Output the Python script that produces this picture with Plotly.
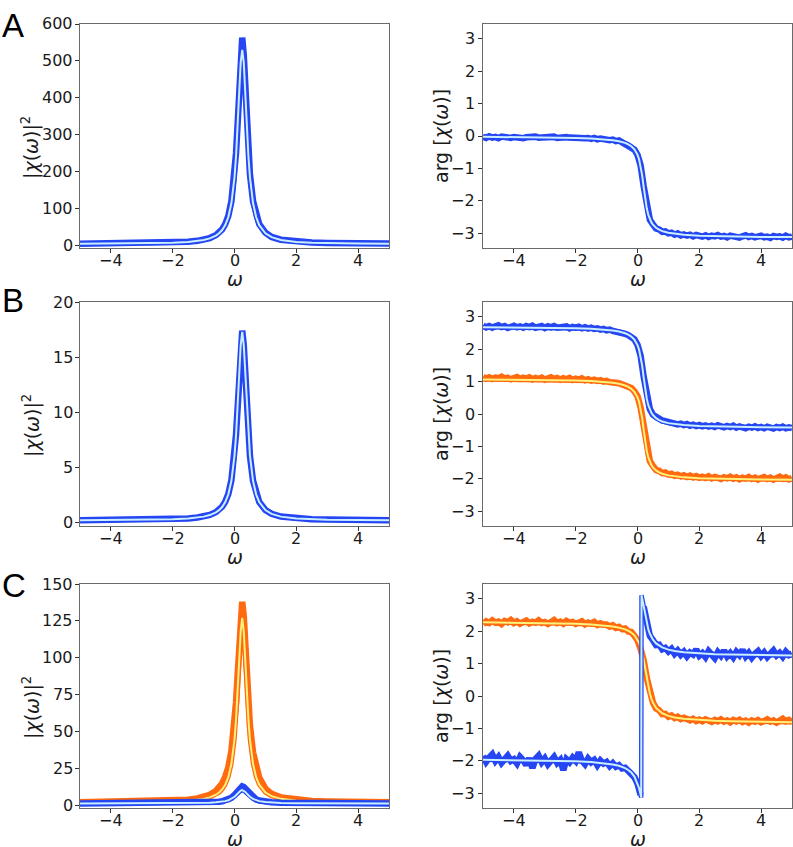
import plotly.graph_objects as go
from plotly.subplots import make_subplots

# ---------------- data ----------------
omega_data = [-5.0, -4.9, -4.8, -4.7, -4.6, -4.5, -4.4, -4.3, -4.2, -4.1,
              -4.0, -3.9, -3.8, -3.7, -3.6, -3.5, -3.4, -3.3, -3.2, -3.1,
              -3.0, -2.9, -2.8, -2.7, -2.6, -2.5, -2.4, -2.3, -2.2, -2.1,
              -2.0, -1.9, -1.8, -1.7, -1.6, -1.5, -1.4, -1.3, -1.2, -1.1,
              -1.0, -0.9, -0.8, -0.7, -0.6, -0.5, -0.4, -0.3, -0.2, -0.1,
              0.0, 0.1, 0.2, 0.3, 0.4, 0.5, 0.6, 0.7, 0.8, 0.9,
              1.0, 1.1, 1.2, 1.3, 1.4, 1.5, 1.6, 1.7, 1.8, 1.9,
              2.0, 2.1, 2.2, 2.3, 2.4, 2.5, 2.6, 2.7, 2.8, 2.9,
              3.0, 3.1, 3.2, 3.3, 3.4, 3.5, 3.6, 3.7, 3.8, 3.9,
              4.0, 4.1, 4.2, 4.3, 4.4, 4.5, 4.6, 4.7, 4.8, 4.9,
              5.0]

omega_fit = [-5, -4, -3, -2.5, -2, -1.5, -1.2, -1, -0.8, -0.6, -0.5, -0.4, -0.3,
             -0.2, -0.1, 0, 0.05, 0.1, 0.15, 0.2, 0.25, 0.3, 0.35, 0.4, 0.45, 0.5,
             0.6, 0.7, 0.8, 1, 1.2, 1.5, 2, 2.5, 3, 4, 5]

omega_fit_c_blue = [-5, -4, -3, -2.5, -2, -1.5, -1.2, -1, -0.8, -0.6, -0.5, -0.4, -0.3,
                    -0.2, -0.1, 0, 0.05, 0.1, 0.12, 0.13, 0.15, 0.2, 0.25, 0.3, 0.35,
                    0.4, 0.45, 0.5, 0.6, 0.7, 0.8, 1, 1.2, 1.5, 2, 2.5, 3, 4, 5]

# |chi|^2 panels (sampled on omega_fit)
magA_data = [3.8, 4.2, 4.9, 5.6, 6.8, 9.0, 11.5, 14.5, 19, 27, 33.5, 42.5, 57, 79, 119, 192,
             250, 328, 425, 520, 563, 515, 425, 328, 250, 192, 119, 79, 57, 33.5, 22, 14.5,
             9, 6.8, 5.6, 4.4, 4.0]
magA_fit = [3.6, 4.0, 4.6, 5.3, 6.4, 8.6, 11.0, 13.8, 18.1, 25.7, 31.9, 40.7, 54.3, 75.9, 113.9,
            184, 241, 316, 410, 495, 530, 495, 410, 316, 241, 184, 114, 76, 54, 32, 21.4, 13.8,
            8.6, 6.4, 5.3, 4.2, 3.8]

magB_data = [0.23, 0.24, 0.26, 0.28, 0.32, 0.39, 0.47, 0.56, 0.7, 0.96, 1.16, 1.45, 1.9, 2.6,
             3.85, 6.15, 8.0, 10.35, 13.4, 16.2, 17.4, 16.1, 13.3, 10.25, 7.9, 6.05, 3.8, 2.58,
             1.88, 1.15, 0.81, 0.56, 0.39, 0.32, 0.28, 0.25, 0.23]
magB_fit = [0.22, 0.23, 0.25, 0.27, 0.31, 0.38, 0.46, 0.55, 0.69, 0.94, 1.14, 1.42, 1.87, 2.57,
            3.80, 6.08, 7.92, 10.26, 13.31, 16.07, 17.3, 16.07, 13.31, 10.26, 7.92, 6.08, 3.80,
            2.57, 1.87, 1.14, 0.80, 0.55, 0.38, 0.31, 0.27, 0.24, 0.22]

magC_orange_data = [2.3, 2.5, 2.7, 2.9, 3.3, 4.0, 4.9, 5.8, 7.3, 10, 12, 15, 19.5, 26, 37, 55,
                    70, 88, 112, 132, 138, 128, 108, 86, 68, 54, 36, 25, 19, 11.5, 8, 5.6, 3.8,
                    3.1, 2.8, 2.5, 2.3]
magC_orange_fit = [2.14, 2.24, 2.38, 2.54, 2.80, 3.32, 3.90, 4.56, 5.58, 7.39, 8.85, 10.94, 14.17,
                   19.3, 28.3, 44.9, 58.4, 75.3, 97.5, 117.7, 127, 117.7, 97.5, 75.3, 58.4, 44.9,
                   28.3, 19.3, 14.2, 8.9, 6.4, 4.6, 3.3, 2.8, 2.5, 2.3, 2.2]
magC_blue_data = [1.53, 1.54, 1.56, 1.59, 1.64, 1.73, 1.82, 1.95, 2.11, 2.42, 2.65, 2.98, 3.47,
                  4.21, 5.39, 7.26, 8.53, 9.97, 11.43, 12.57, 13.0, 12.57, 11.43, 9.97, 8.53,
                  7.26, 5.39, 4.21, 3.47, 2.65, 2.24, 1.95, 1.73, 1.64, 1.59, 1.55, 1.53]
magC_blue_fit = [1.52, 1.53, 1.55, 1.57, 1.61, 1.68, 1.75, 1.85, 1.98, 2.22, 2.4, 2.66, 3.04,
                 3.62, 4.54, 6.0, 6.99, 8.12, 9.26, 10.15, 10.5, 10.15, 9.26, 8.12, 6.99, 6.0,
                 4.54, 3.62, 3.04, 2.4, 2.08, 1.85, 1.68, 1.61, 1.57, 1.54, 1.52]

# arg chi panels (data on omega_data, fits on omega_fit)
argA_data = [-0.02, -0.06, -0.01, -0.05, -0.03, -0.07, -0.02, -0.04, -0.01, -0.06,
             -0.03, -0.05, -0.02, -0.07, -0.04, -0.03, -0.06, -0.02, -0.05, -0.04,
             -0.07, -0.03, -0.05, -0.02, -0.06, -0.04, -0.07, -0.03, -0.05, -0.06,
             -0.04, -0.08, -0.05, -0.07, -0.06, -0.09, -0.06, -0.1, -0.08, -0.11,
             -0.09, -0.13, -0.11, -0.16, -0.14, -0.2, -0.22, -0.28, -0.33, -0.42,
             -0.58, -0.9, -1.55, -2.22, -2.58, -2.72, -2.85, -2.88, -2.95, -2.94,
             -3.0, -2.98, -3.04, -3.0, -3.06, -3.03, -3.07, -3.04, -3.09, -3.05,
             -3.08, -3.1, -3.06, -3.11, -3.07, -3.09, -3.05, -3.1, -3.08, -3.12,
             -3.07, -3.1, -3.08, -3.13, -3.09, -3.06, -3.11, -3.08, -3.12, -3.09,
             -3.07, -3.12, -3.1, -3.14, -3.08, -3.11, -3.09, -3.13, -3.07, -3.12,
             -3.1]
argA_fit = [-0.025, -0.031, -0.041, -0.048, -0.059, -0.076, -0.093, -0.108, -0.129, -0.161,
            -0.184, -0.213, -0.255, -0.314, -0.409, -0.576, -0.714, -0.915, -1.204, -1.571,
            -1.938, -2.227, -2.428, -2.566, -2.662, -2.733, -2.828, -2.887, -2.929, -2.981,
            -3.013, -3.042, -3.070, -3.085, -3.095, -3.108, -3.115]

argB_blue_data = [2.72, 2.67, 2.71, 2.66, 2.7, 2.73, 2.68, 2.71, 2.65, 2.69,
                  2.72, 2.67, 2.7, 2.66, 2.71, 2.68, 2.72, 2.66, 2.69, 2.71,
                  2.65, 2.7, 2.67, 2.71, 2.66, 2.69, 2.67, 2.7, 2.64, 2.68,
                  2.66, 2.69, 2.64, 2.67, 2.63, 2.66, 2.62, 2.64, 2.6, 2.62,
                  2.58, 2.6, 2.56, 2.55, 2.53, 2.5, 2.47, 2.43, 2.38, 2.3,
                  2.13, 1.8, 1.15, 0.5, 0.15, -0.02, -0.1, -0.15, -0.2, -0.22,
                  -0.25, -0.27, -0.28, -0.32, -0.3, -0.34, -0.31, -0.36, -0.33, -0.37,
                  -0.34, -0.38, -0.35, -0.39, -0.36, -0.4, -0.35, -0.38, -0.41, -0.37,
                  -0.4, -0.36, -0.42, -0.38, -0.4, -0.44, -0.39, -0.42, -0.38, -0.43,
                  -0.4, -0.44, -0.39, -0.42, -0.45, -0.4, -0.43, -0.39, -0.44, -0.41,
                  -0.43]
argB_blue_fit = [2.675, 2.669, 2.659, 2.652, 2.641, 2.624, 2.607, 2.592, 2.571, 2.539, 2.516,
                 2.487, 2.445, 2.386, 2.291, 2.124, 1.986, 1.785, 1.496, 1.129, 0.762, 0.473,
                 0.272, 0.134, 0.038, -0.033, -0.128, -0.187, -0.229, -0.281, -0.313, -0.342,
                 -0.370, -0.385, -0.395, -0.408, -0.415]
argB_orange_data = [1.14, 1.09, 1.13, 1.08, 1.12, 1.1, 1.15, 1.09, 1.12, 1.07,
                    1.11, 1.14, 1.08, 1.12, 1.09, 1.13, 1.07, 1.11, 1.08, 1.12,
                    1.06, 1.1, 1.13, 1.08, 1.11, 1.06, 1.1, 1.07, 1.11, 1.05,
                    1.09, 1.06, 1.1, 1.04, 1.07, 1.03, 1.06, 1.02, 1.04, 1.0,
                    1.02, 0.98, 0.99, 0.96, 0.95, 0.92, 0.9, 0.85, 0.8, 0.7,
                    0.55, 0.2, -0.45, -1.1, -1.45, -1.6, -1.72, -1.75, -1.82, -1.8,
                    -1.86, -1.84, -1.9, -1.87, -1.92, -1.89, -1.94, -1.9, -1.95, -1.91,
                    -1.96, -1.93, -1.97, -1.92, -1.98, -1.94, -1.97, -2.0, -1.95, -1.98,
                    -1.93, -1.99, -1.95, -2.01, -1.96, -1.99, -1.94, -2.0, -1.96, -2.02,
                    -1.97, -1.94, -2.0, -1.96, -2.02, -1.97, -1.93, -1.99, -1.95, -2.01,
                    -1.97]
argB_orange_fit = [1.065, 1.059, 1.049, 1.042, 1.031, 1.014, 0.997, 0.982, 0.961, 0.929, 0.906,
                   0.877, 0.835, 0.776, 0.681, 0.514, 0.376, 0.175, -0.114, -0.481, -0.848,
                   -1.137, -1.338, -1.476, -1.572, -1.643, -1.738, -1.797, -1.839, -1.891,
                   -1.923, -1.952, -1.980, -1.995, -2.005, -2.018, -2.025]

argC_orange_data = [2.22, 2.3, 2.25, 2.33, 2.26, 2.29, 2.22, 2.31, 2.27, 2.34,
                    2.25, 2.3, 2.23, 2.28, 2.32, 2.24, 2.29, 2.26, 2.33, 2.25,
                    2.28, 2.22, 2.3, 2.34, 2.25, 2.29, 2.23, 2.31, 2.26, 2.28,
                    2.22, 2.27, 2.3, 2.21, 2.26, 2.23, 2.28, 2.19, 2.24, 2.2,
                    2.2, 2.14, 2.18, 2.1, 2.13, 2.06, 2.08, 1.99, 1.97, 1.86,
                    1.72, 1.45, 1.1, 0.55, 0.05, -0.2, -0.38, -0.44, -0.56, -0.55,
                    -0.64, -0.6, -0.68, -0.64, -0.71, -0.67, -0.71, -0.75, -0.7, -0.77,
                    -0.73, -0.78, -0.72, -0.76, -0.8, -0.74, -0.78, -0.72, -0.79, -0.75,
                    -0.81, -0.74, -0.78, -0.73, -0.8, -0.76, -0.82, -0.75, -0.79, -0.74,
                    -0.81, -0.77, -0.72, -0.79, -0.75, -0.82, -0.76, -0.7, -0.78, -0.74,
                    -0.8]
argC_orange_fit = [2.268, 2.260, 2.248, 2.239, 2.225, 2.204, 2.185, 2.167, 2.142, 2.107, 2.083,
                   2.052, 2.010, 1.953, 1.869, 1.738, 1.642, 1.515, 1.344, 1.120, 0.846, 0.555,
                   0.289, 0.076, -0.085, -0.205, -0.366, -0.465, -0.532, -0.613, -0.661,
                   -0.704, -0.744, -0.766, -0.779, -0.796, -0.806]
argC_blue_data = [-1.85, -2.03, -1.9, -1.8, -2.0, -1.88, -2.06, -1.92, -1.84, -2.0,
                  -1.95, -2.08, -1.88, -1.98, -2.12, -1.92, -2.22, -1.94, -1.84, -2.04,
                  -1.92, -2.1, -1.95, -1.88, -2.06, -1.97, -2.28, -1.95, -2.04, -1.9,
                  -2.0, -1.74, -1.99, -2.1, -1.93, -2.04, -1.97, -2.13, -1.99, -2.08,
                  -2.03, -2.16, -2.07, -2.18, -2.13, -2.23, -2.21, -2.3, -2.36, -2.5,
                  -2.7, -3.05, 2.75, 2.2, 1.85, 1.72, 1.57, 1.58, 1.44, 1.48,
                  1.37, 1.45, 1.3, 1.4, 1.27, 1.36, 1.22, 1.34, 1.28, 1.43,
                  1.24, 1.32, 1.2, 1.38, 1.27, 1.17, 1.35, 1.24, 1.4, 1.22,
                  1.32, 1.19, 1.36, 1.26, 1.42, 1.22, 1.33, 1.18, 1.3, 1.38,
                  1.23, 1.34, 1.2, 1.3, 1.4, 1.25, 1.33, 1.21, 1.36, 1.26,
                  1.3]
argC_blue_fit = [-1.964, -1.973, -1.986, -1.996, -2.011, -2.035, -2.057, -2.078, -2.108, -2.151,
                 -2.183, -2.223, -2.278, -2.358, -2.480, -2.683, -2.834, -3.032, -3.126, 3.107,
                 3.004, 2.726, 2.457, 2.229, 2.050, 1.915, 1.812, 1.733, 1.621, 1.547,
                 1.496, 1.428, 1.386, 1.347, 1.310, 1.288, 1.275, 1.258, 1.248]

wrap_index = 52  # phase wraps between omega 0.1 and 0.2 for C blue data

panel_letters = ["A", "B", "C"]
mag_ticks = [[0, 100, 200, 300, 400, 500, 600], [0, 5, 10, 15, 20],
             [0, 25, 50, 75, 100, 125, 150]]
mag_ranges = [[-8, 600], [-0.3, 20], [-1.6, 150]]
arg_ticks = [-3, -2, -1, 0, 1, 2, 3]
arg_range = [-3.45, 3.45]
omega_ticks = [-4, -2, 0, 2, 4]

# ---------------- styles ----------------
BLUE = "#2546f2"
LIGHT_BLUE = "#c8eeff"
ORANGE = "#ff6a10"
YELLOW = "#fff27a"
W_DATA = 6.5
W_FIT_OUT = 4.5
W_FIT_IN = 2

fig = make_subplots(rows=3, cols=2)


def add_set(x_d, y_d, x_f, y_f, color, light, row, col):
    fig.add_trace(go.Scatter(x=x_d, y=y_d, mode="lines",
                             line=dict(color=color, width=W_DATA)), row=row, col=col)
    fig.add_trace(go.Scatter(x=x_f, y=y_f, mode="lines",
                             line=dict(color=color, width=W_FIT_OUT)), row=row, col=col)
    fig.add_trace(go.Scatter(x=x_f, y=y_f, mode="lines",
                             line=dict(color=light, width=W_FIT_IN)), row=row, col=col)


# Row A
add_set(omega_fit, magA_data, omega_fit, magA_fit, BLUE, LIGHT_BLUE, 1, 1)
add_set(omega_data, argA_data, omega_fit, argA_fit, BLUE, LIGHT_BLUE, 1, 2)
# Row B
add_set(omega_fit, magB_data, omega_fit, magB_fit, BLUE, LIGHT_BLUE, 2, 1)
add_set(omega_data, argB_blue_data, omega_fit, argB_blue_fit, BLUE, LIGHT_BLUE, 2, 2)
add_set(omega_data, argB_orange_data, omega_fit, argB_orange_fit, ORANGE, YELLOW, 2, 2)
# Row C
add_set(omega_fit, magC_orange_data, omega_fit, magC_orange_fit, ORANGE, YELLOW, 3, 1)
add_set(omega_fit, magC_blue_data, omega_fit, magC_blue_fit, BLUE, LIGHT_BLUE, 3, 1)
add_set(omega_data, argC_orange_data, omega_fit, argC_orange_fit, ORANGE, YELLOW, 3, 2)
fig.add_trace(go.Scatter(x=omega_data[:wrap_index], y=argC_blue_data[:wrap_index], mode="lines",
                         line=dict(color=BLUE, width=W_DATA)), row=3, col=2)
add_set(omega_data[wrap_index:], argC_blue_data[wrap_index:], omega_fit_c_blue, argC_blue_fit,
        BLUE, LIGHT_BLUE, 3, 2)

# ---------------- layout ----------------
W, H = 793, 847
left_px = (80, 389)
right_px = (483, 792)
row_px = [(24, 248), (302, 526), (584, 808)]

TXT = "#1a1a1a"
tick_font = dict(family="DejaVu Sans", size=16, color=TXT)
title_font = dict(family="DejaVu Sans", size=19, color=TXT)
axis_common = dict(showline=True, mirror=True, linecolor="#6a6a6a", linewidth=1,
                   ticks="outside", ticklen=4, tickcolor="#333", tickwidth=1,
                   showgrid=False, zeroline=False, showticklabels=False)


def fmt(v):
    s = f"{v:g}"
    return s.replace("-", "\u2212")


layout = {}
annotations = []
for r in range(3):
    top, bot = row_px[r]
    ydom = [1 - bot / H, 1 - top / H]
    yc = (top + bot) / 2
    for c in range(2):
        idx = r * 2 + c + 1
        xa = "xaxis" if idx == 1 else f"xaxis{idx}"
        ya = "yaxis" if idx == 1 else f"yaxis{idx}"
        xref = "x" if idx == 1 else f"x{idx}"
        yref = "y" if idx == 1 else f"y{idx}"
        xpx = left_px if c == 0 else right_px
        layout[xa] = dict(axis_common, domain=[xpx[0] / W, xpx[1] / W],
                          range=[-5, 5], tickvals=omega_ticks)
        # x tick labels
        for t in omega_ticks:
            annotations.append(dict(text=fmt(t), x=t, xref=xref, y=1 - (bot + 12.5) / H,
                                    yref="paper", xanchor="center", yanchor="middle",
                                    height=17, showarrow=False, font=tick_font))
        # x title
        annotations.append(dict(text="<i>ω</i>", x=(xpx[0] + xpx[1]) / 2 / W,
                                y=1 - (bot + 30.5) / H, xref="paper", yref="paper",
                                xanchor="center", yanchor="middle", height=17,
                                showarrow=False, font=title_font))
        if c == 0:
            yt, yr = mag_ticks[r], mag_ranges[r]
            ytitle = "|<i>χ</i>(<i>ω</i>)|<sup>2</sup>"
            title_x, title_y = 31, yc + 12
            lab_gap = 5
        else:
            yt, yr = arg_ticks, arg_range
            ytitle = "arg [<i>χ</i>(<i>ω</i>)]"
            title_x, title_y = 441, yc
            lab_gap = 6
        layout[ya] = dict(axis_common, domain=ydom, range=yr, tickvals=yt)
        for t in yt:
            annotations.append(dict(text=fmt(t), x=(xpx[0] - lab_gap) / W, xref="paper",
                                    y=t, yref=yref, xanchor="right", yanchor="middle",
                                    height=17, showarrow=False, font=tick_font))
        annotations.append(dict(text=ytitle, x=title_x / W, y=1 - title_y / H,
                                xref="paper", yref="paper", xanchor="center",
                                yanchor="middle", textangle=-90, showarrow=False,
                                font=title_font))

fig.update_layout(**layout)

letter_top = [5, 280, 565]
for letter, yp in zip(panel_letters, letter_top):
    annotations.append(dict(text=letter, x=0.0, y=1 - yp / H, xref="paper", yref="paper",
                            xanchor="left", yanchor="top", showarrow=False,
                            font=dict(family="Liberation Sans", size=33, color="#000")))

fig.update_layout(width=W, height=H, margin=dict(l=0, r=0, t=0, b=0),
                  paper_bgcolor="white", plot_bgcolor="white", showlegend=False,
                  annotations=annotations)

fig.write_html("out.html", config={"displayModeBar": False},
               post_script="document.body.style.margin='0px';document.body.style.padding='0px';")
